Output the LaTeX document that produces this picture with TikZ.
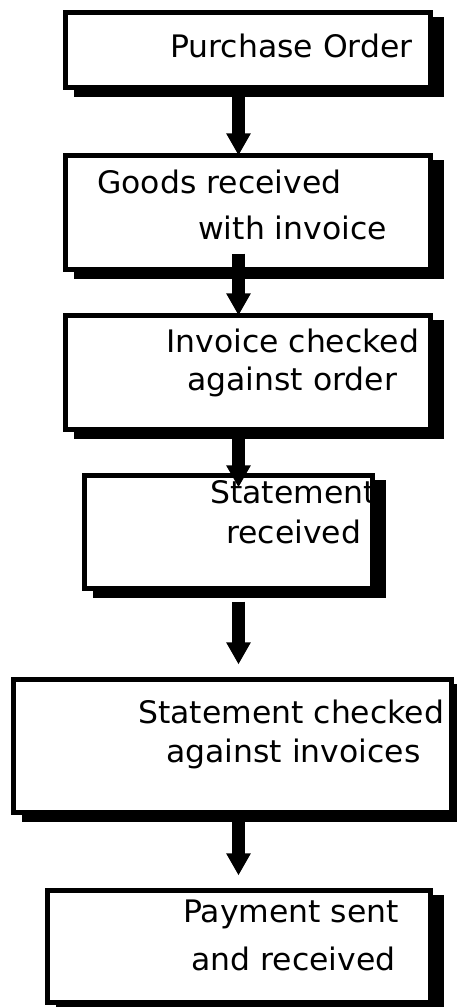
\documentclass[tikz,border=0pt]{standalone}
\usepackage{fontspec}
\setmainfont[FakeStretch=1.015]{DejaVu Sans}
\usetikzlibrary{arrows.meta}

\tikzset{
  box/.style={draw, line width=4.8pt, fill=white, inner sep=0pt, outer sep=0pt,
    preaction={draw, fill=black, transform canvas={shift={(10.5pt,-7pt)}}}},
  lbl/.style={anchor=base west, inner sep=0pt},
  flow/.style={line width=13pt, -{Triangle[width=23pt,length=22pt]}}
}

\begin{document}
\begin{tikzpicture}[x=1pt, y=-1pt, font=\fontsize{31}{37}\selectfont]
	\useasboundingbox (0,0) rectangle (457,1007);
	\coordinate (axis) at (238.5,0);
\node[box, minimum width=365.2pt, minimum height=75.2pt] (order) at (248,50) {}; % Order
\node[box, minimum width=365.2pt, minimum height=114.2pt] (goods) at (248,212.5) {}; % Goods
\node[box, minimum width=365.2pt, minimum height=114.2pt] (check) at (248,372.5) {}; % Check
\node[box, minimum width=288.2pt, minimum height=113.2pt] (stmt) at (228.5,532) {}; % Stmt
\node[box, minimum width=438.2pt, minimum height=133.2pt] (stmtcheck) at (232.5,746) {}; % StmtCheck
\node[box, minimum width=383.2pt, minimum height=112.2pt] (pay) at (239,946.5) {}; % Pay
\node[lbl] (order1) at (170,57) {Purchase Order}; % Order
\node[lbl] (goods1) at (97,193) {Goods received}; % Goods
\node[lbl] (goods2) at (198,239) {with invoice}; % Goods
\node[lbl] (check1) at (166,352) {Invoice checked}; % Check
\node[lbl] (check2) at (187,390) {against order}; % Check
\node[lbl] (stmt1) at (210,503) {Statement}; % Stmt
\node[lbl] (stmt2) at (226,543) {received}; % Stmt
\node[lbl] (stmtcheck1) at (138,723) {Statement checked}; % StmtCheck
\node[lbl] (stmtcheck2) at (166,762) {against invoices}; % StmtCheck
\node[lbl] (pay1) at (183,922) {Payment sent}; % Pay
\node[lbl] (pay2) at (191,970) {and received}; % Pay
\draw[flow] ([yshift=-7pt]order.south -| axis) -- (goods.north -| axis); % Order -> Goods
\draw[flow] ([yshift=16pt]goods.south -| axis) -- (check.north -| axis); % Goods -> Check
\draw[flow] ([yshift=-7pt]check.south -| axis) -- ([yshift=-12pt]stmt.north -| axis); % Check -> Stmt
\draw[flow] ([yshift=-13pt]stmt.south -| axis) -- ([yshift=15pt]stmtcheck.north -| axis); % Stmt -> StmtCheck
\draw[flow] ([yshift=-8pt]stmtcheck.south -| axis) -- ([yshift=15pt]pay.north -| axis); % StmtCheck -> Pay

	\end{tikzpicture}
\end{document}
